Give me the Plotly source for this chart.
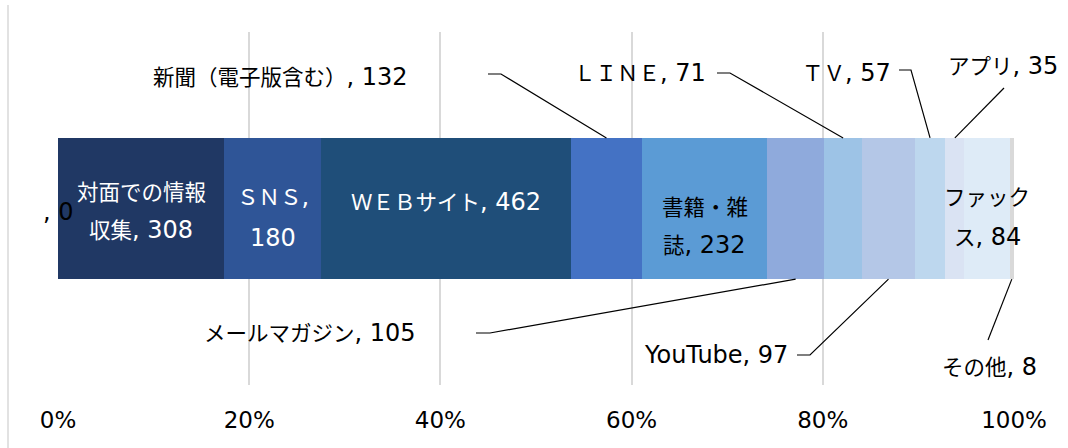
import re
import plotly.graph_objects as go

# Information sources (response counts), stacked as shares of the total
categories = ["", "対面での情報収集", "ＳＮＳ", "ＷＥＢサイト", "新聞（電子版含む）", "書籍・雑誌",
              "メールマガジン", "ＬＩＮＥ", "YouTube", "ＴＶ", "アプリ", "ファックス", "その他"]
values = [0, 308, 180, 462, 132, 232, 105, 71, 97, 57, 35, 84, 8]
colors = ["#203864", "#203864", "#2F5597", "#1F4E79", "#4472C4", "#5B9BD5",
          "#8FAADC", "#9DC3E6", "#B4C7E7", "#BDD7EE", "#DAE3F3", "#DEEBF7", "#D9D9D9"]
tick_vals = [0, 0.2, 0.4, 0.6, 0.8, 1.0]
tick_text = ["0%", "20%", "40%", "60%", "80%", "100%"]

W, H = 1068, 448
ML, MR, MT, MB = 58, 54, 32, 63
PW, PH = W - ML - MR, H - MT - MB
FONT = "DejaVu Sans, Noto Sans CJK JP, sans-serif"
FS = 21.5        # size for Japanese glyphs
FS_LATIN = 24    # size for Latin letters and digits
BAR_W = 0.4


def xd(px):
    return (px - ML) / PW


def yp(py):
    return (H - MB - py) / PH


def styled(t):
    # enlarge ASCII runs so Latin text sits at the same visual size as the kana
    return re.sub(r"([\x20-\x7e]+)",
                  lambda m: f'<span style="font-size:{FS_LATIN}px">{m.group(1)}</span>', t)


total = sum(values)
mids = {}
acc = 0
for c, v in zip(categories, values):
    mids[c] = (acc + v / 2) / total
    acc += v

bar_top = yp(MT + PH * (0.5 - BAR_W / 2))
bar_bot = yp(MT + PH * (0.5 + BAR_W / 2))

fig = go.Figure()
for c, v, col in zip(categories, values, colors):
    fig.add_trace(go.Bar(x=[v], y=[0], orientation="h", name=c, width=BAR_W,
                         marker=dict(color=col, line=dict(width=0)),
                         hoverinfo="skip", showlegend=False))

annotations = []
shapes = []


def label_text(c, v):
    return f"{c}, {v}"


# Labels drawn inside the bar: (characters on the first line, line y positions, colour)
inside = {
    "対面での情報収集": (6, [193, 230], "white"),
    "ＳＮＳ": (4, [197, 238], "white"),
    "ＷＥＢサイト": (None, [202], "white"),
    "書籍・雑誌": (4, [207, 245], "black"),
    "ファックス": (4, [197, 237], "black"),
}
for c, (split, ys, col) in inside.items():
    v = values[categories.index(c)]
    t = label_text(c, v)
    lines = [t] if split is None else [t[:split].strip(), t[split:].strip()]
    for ln, y in zip(lines, ys):
        annotations.append(dict(x=mids[c], y=yp(y), xref="x", yref="paper", text=styled(ln),
                                showarrow=False, xanchor="center", yanchor="middle",
                                font=dict(family=FONT, size=FS, color=col)))

# Zero-valued entry labelled at its (empty) segment
annotations.append(dict(x=mids[""], y=yp(212), xref="x", yref="paper",
                        text=styled(label_text("", 0)),
                        showarrow=False, xanchor="center", yanchor="middle",
                        font=dict(family=FONT, size=FS, color="black")))

# Labels outside the bar with leader lines: text anchor, leader start points, bar side
outside = {
    "新聞（電子版含む）": dict(x=410, y=77, anchor="right", lead=[(488, 74), (501, 74)], side="top"),
    "ＬＩＮＥ": dict(x=708, y=73, anchor="right", lead=[(717, 73), (730, 73)], side="top"),
    "ＴＶ": dict(x=893, y=73, anchor="right", lead=[(899, 70), (911, 70)], side="top"),
    "アプリ": dict(x=1003, y=66, anchor="center", lead=[(1004, 88)], side="top"),
    "メールマガジン": dict(x=418, y=333, anchor="right", lead=[(476, 333), (490, 333)], side="bottom"),
    "YouTube": dict(x=790, y=355, anchor="right", lead=[(797, 355), (810, 355)], side="bottom"),
    "その他": dict(x=989, y=367, anchor="center", lead=[(988, 340)], side="bottom"),
}
for c, o in outside.items():
    v = values[categories.index(c)]
    annotations.append(dict(x=xd(o["x"]), y=yp(o["y"]), xref="x", yref="paper",
                            text=styled(label_text(c, v)), showarrow=False,
                            xanchor=o["anchor"], yanchor="middle",
                            font=dict(family=FONT, size=FS, color="black")))
    pts = [(xd(px), yp(py)) for px, py in o["lead"]]
    pts.append((mids[c], bar_top if o["side"] == "top" else bar_bot))
    path = "M " + " L ".join(f"{x},{y}" for x, y in pts)
    shapes.append(dict(type="path", path=path, xref="x", yref="paper",
                       line=dict(color="black", width=1.2), layer="above"))

# Chart-area border on the left
shapes.append(dict(type="line", xref="paper", yref="paper", x0=xd(8), x1=xd(8),
                   y0=yp(5), y1=yp(448), line=dict(color="#D9D9D9", width=1.5)))

fig.update_layout(
    width=W, height=H, barmode="stack", barnorm="fraction",
    margin=dict(l=ML, r=MR, t=MT, b=MB, pad=0),
    paper_bgcolor="white", plot_bgcolor="white",
    font=dict(family=FONT, size=FS, color="black"),
    xaxis=dict(range=[0, 1], tickvals=tick_vals, ticktext=tick_text,
               showgrid=True, gridcolor="#D9D9D9", gridwidth=2,
               zeroline=False, showline=False, ticks="", ticklabelstandoff=19,
               tickfont=dict(family=FONT, size=23, color="black")),
    yaxis=dict(range=[-0.5, 0.5], showticklabels=False, showgrid=False,
               zeroline=False, showline=False, ticks=""),
    annotations=annotations, shapes=shapes,
)

fig.write_html("out.html")
